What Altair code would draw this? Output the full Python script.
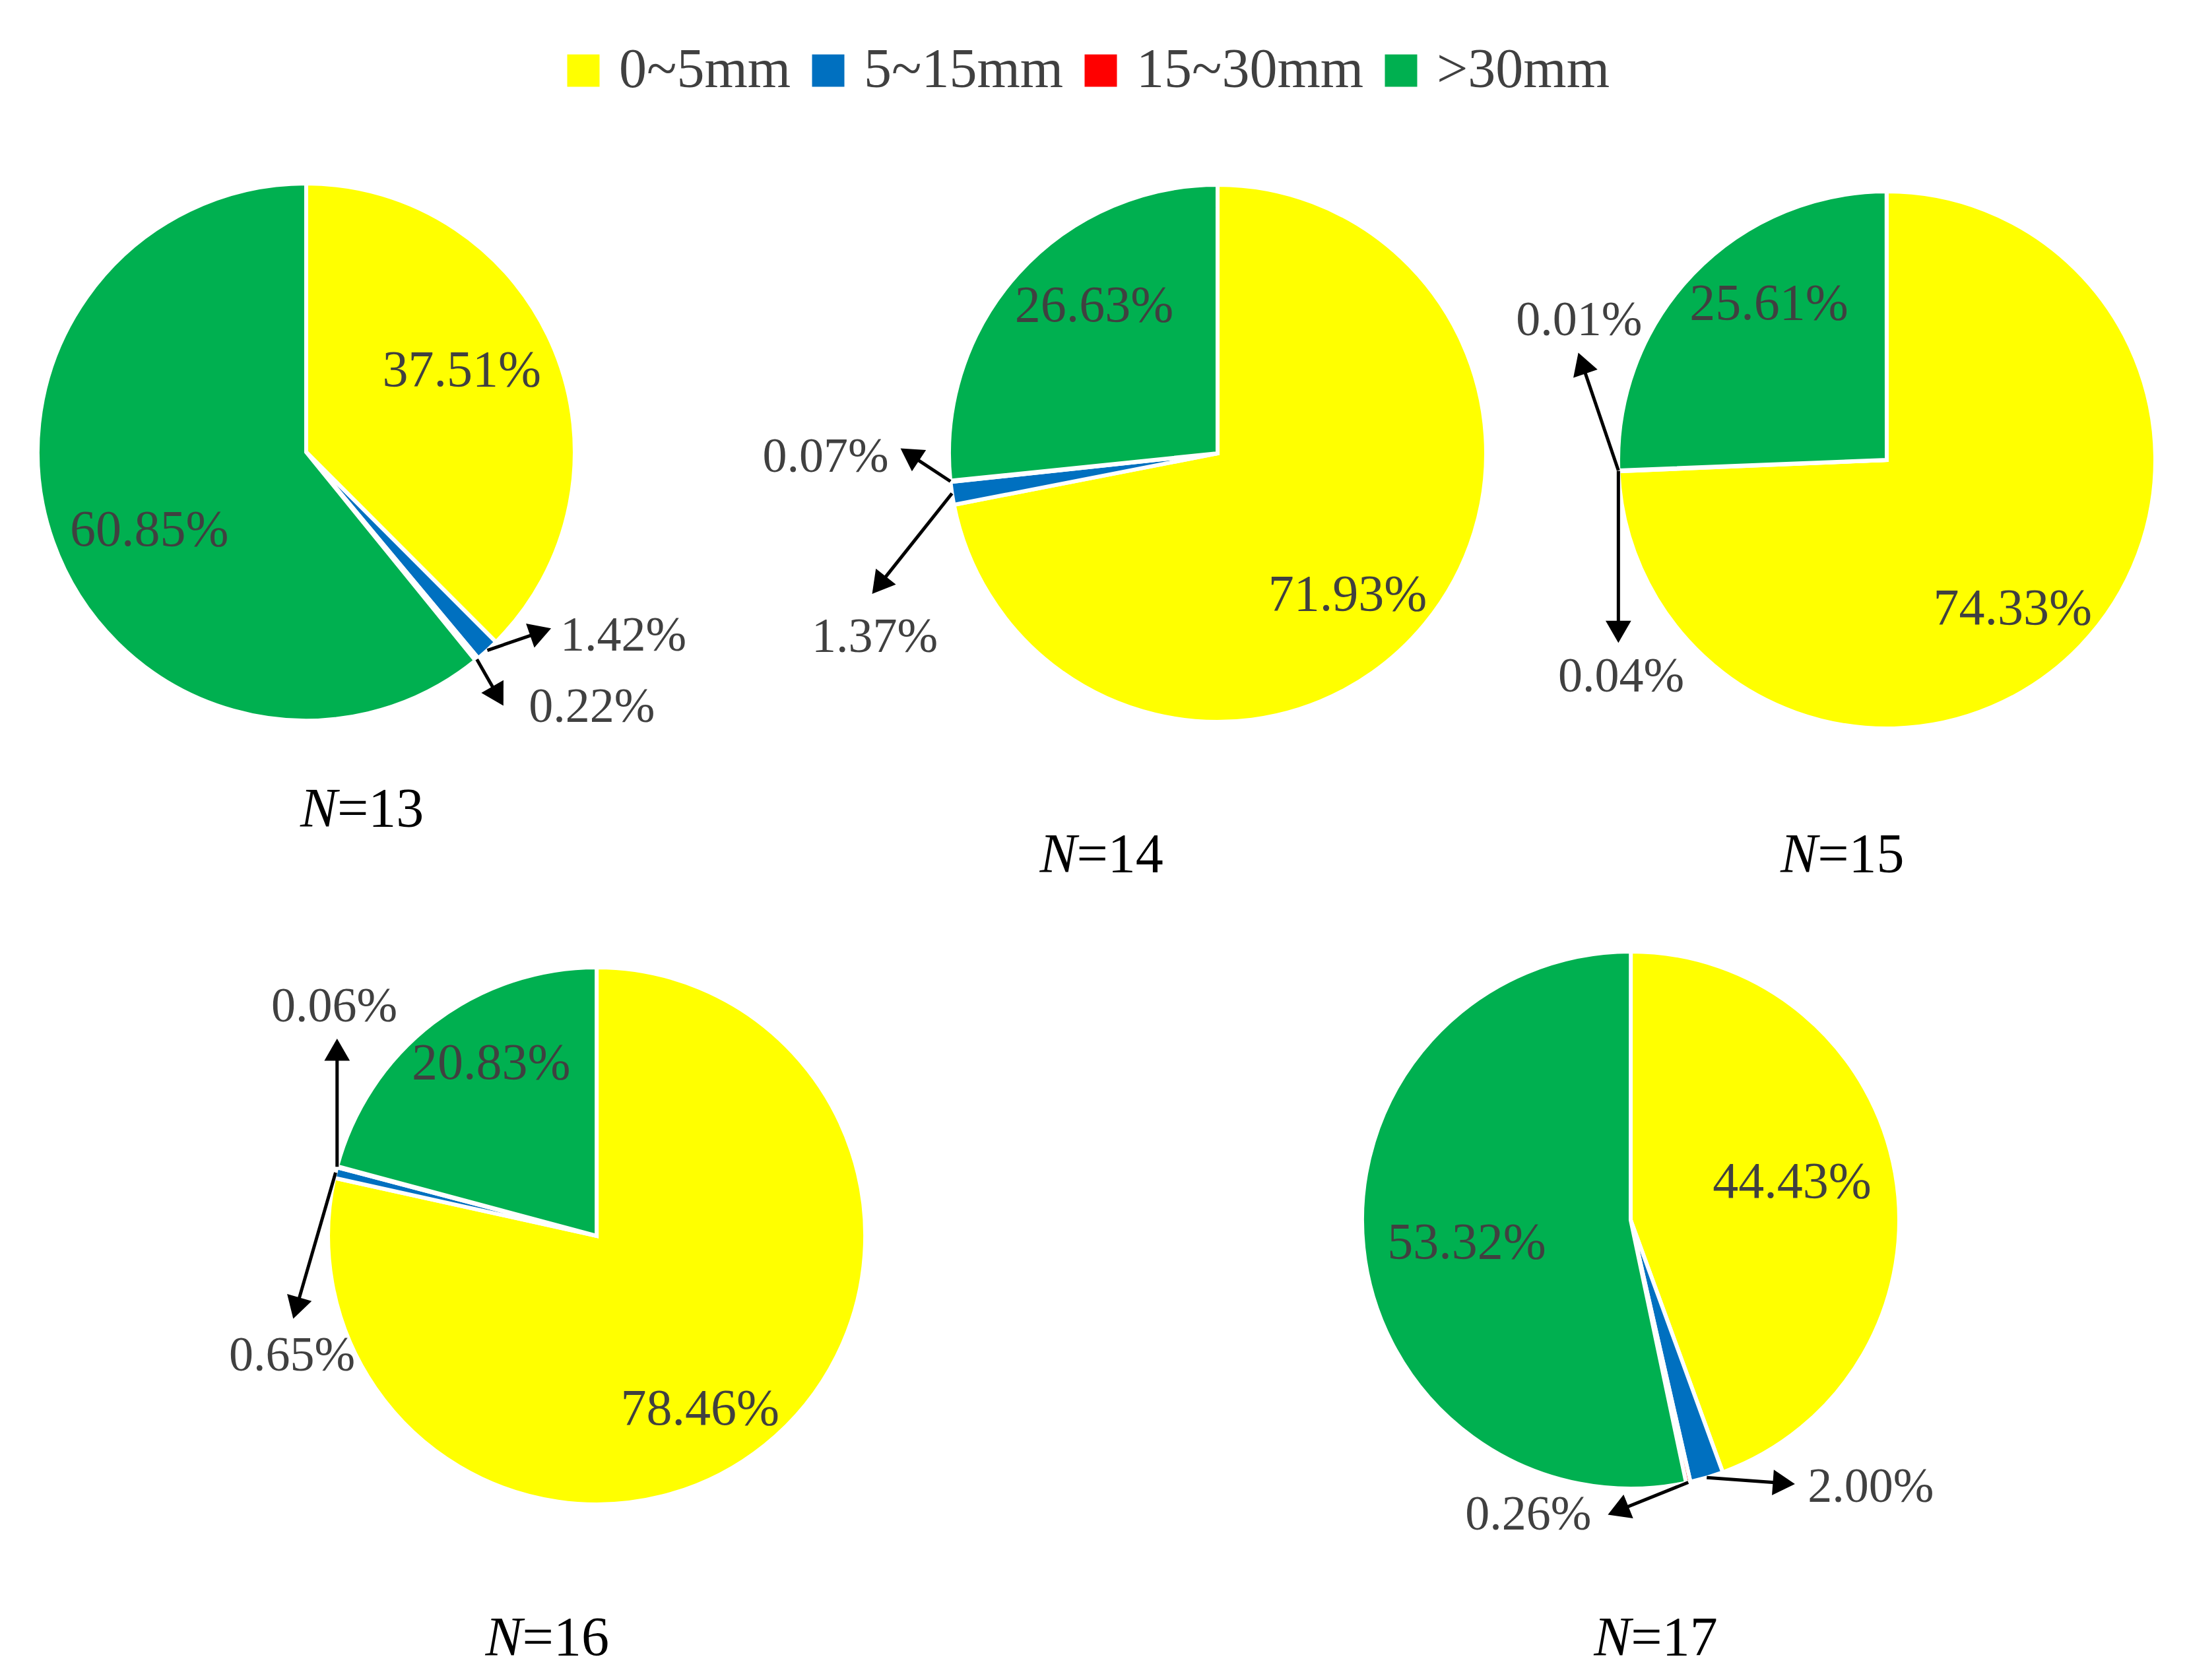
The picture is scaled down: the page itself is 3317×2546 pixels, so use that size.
import math
import altair as alt
import pandas as pd

# ---------------- data ----------------
CATEGORIES = ["0~5mm", "5~15mm", "15~30mm", ">30mm"]
COLORS = ["#FFFF00", "#0070C0", "#FF0000", "#00B050"]
N_VALUES = [13, 14, 15, 16, 17]
SHARE_N13 = [37.51, 1.42, 0.22, 60.85]
SHARE_N14 = [71.93, 1.37, 0.07, 26.63]
SHARE_N15 = [74.33, 0.04, 0.01, 25.61]
SHARE_N16 = [78.46, 0.65, 0.06, 20.83]
SHARE_N17 = [44.43, 2.00, 0.26, 53.32]
SHARES = {13: SHARE_N13, 14: SHARE_N14, 15: SHARE_N15, 16: SHARE_N16, 17: SHARE_N17}

# ---------------- layout (design units = reference at 1560 x 1190) ----------------
W, H = 3300, 2530
SX, SY = 3317 / 1560, 2546 / 1190
S = SX


def px(xd):
    return xd * SX - 8


def py(yd):
    return yd * SY - 8


R_PX = 407
PIE_LAYOUT = {
    13: dict(cx=218.2, cy=320.2, lr=125),
    14: dict(cx=867.7, cy=321.1, lr=137),
    15: dict(cx=1344.6, cy=325.8, lr=139),
    16: dict(cx=425.2, cy=875.4, lr=144),
    17: dict(cx=1162.1, cy=864.2, lr=118),
}
# angular nudge (degrees) of the inside labels of the two big slices, per pie
LABEL_NUDGE = {13: {0: -5, 3: -7}, 14: {0: 8, 3: 8}, 15: {0: 6, 3: 9}, 16: {0: 8, 3: 6}, 17: {0: -3, 3: -2}}
# callouts: slice index -> (arrow end offset, label offset from arrow end, align)
CALLOUTS = {
    13: {1: ((38, -13), (14, 3), "left"), 2: ((15, 26), (22, 8), "left")},
    14: {1: ((-52, 65), (-3, 37), "center"), 2: ((-29, -19), (-15, 2), "right")},
    15: {1: ((0, 114), (2, 32), "center"), 2: ((-26, -76), (-2, -30), "center")},
    16: {1: ((-28, 96), (-3, 34), "center"), 2: ((0, -83), (-2, -30), "center")},
    17: {1: ((55, 4), (17, 3), "left"), 2: ((-50, 20), (-19, 3), "right")},
}
TITLE_POS = {13: (258, 574), 14: (785, 606), 15: (1313, 606), 16: (390, 1161), 17: (1180, 1161)}

FONT = "Liberation Serif"
LABEL_SIZE = 78
CALLOUT_SIZE = 74
TITLE_SIZE = 84
TEXT_COLOR = "#404040"

xscale = alt.Scale(domain=[8 / SX, (8 + W) / SX], nice=False, zero=False)
yscale = alt.Scale(domain=[8 / SY, (8 + H) / SY], nice=False, zero=False, reverse=True)
theta_scale = alt.Scale(domain=[0, 100])
color_scale = alt.Scale(domain=CATEGORIES, range=COLORS)
legend = alt.Legend(
    title=None, orient="none", legendX=834, legendY=57, direction="horizontal", columns=4,
    symbolType="square", symbolSize=2400, symbolStrokeWidth=0, labelFont=FONT,
    labelFontSize=84, labelColor=TEXT_COLOR, columnPadding=14, labelOffset=12, labelLimit=0,
)

layers = []
arrow_rows = []
for n in N_VALUES:
    vals = SHARES[n]
    L = PIE_LAYOUT[n]
    cum = 0.0
    mids = []
    for v in vals:
        mids.append(cum + v / 2)
        cum += v
    df = pd.DataFrame({
        "category": CATEGORIES,
        "share": vals,
        "order": list(range(len(vals))),
        "inside": [f"{v:.2f}%" if v > 5 else "" for v in vals],
        "label_pos": [m + LABEL_NUDGE[n].get(i, 0) / 3.6 for i, m in enumerate(mids)],
    })
    center = dict(x=alt.value(px(L["cx"])), y=alt.value(py(L["cy"])))
    arc = alt.Chart(df).mark_arc(outerRadius=R_PX, stroke="white", strokeWidth=6).encode(
        theta=alt.Theta("share:Q", stack=True, scale=theta_scale),
        order=alt.Order("order:Q"),
        color=alt.Color("category:N", scale=color_scale, legend=legend),
        **center,
    )
    txt = alt.Chart(df).mark_text(radius=L["lr"] * S, font=FONT, fontSize=LABEL_SIZE, color=TEXT_COLOR).encode(
        theta=alt.Theta("label_pos:Q", stack=None, scale=theta_scale),
        text="inside:N",
        **center,
    )
    layers += [arc, txt]

    # callout arrows start on the rim at the slice mid angle
    for i, v in enumerate(vals):
        if i not in CALLOUTS[n]:
            continue
        mid = mids[i] / 100 * 2 * math.pi
        (edx, edy), (ldx, ldy), al = CALLOUTS[n][i]
        sx0 = L["cx"] + R_PX * math.sin(mid) / SX
        sy0 = L["cy"] - R_PX * math.cos(mid) / SY
        ex, ey = sx0 + edx, sy0 + edy
        ang = math.degrees(math.atan2(edx * SX, -edy * SY)) % 360
        arrow_rows.append(dict(x=sx0, y=sy0, x2=ex, y2=ey, angle=ang,
                               lx=ex + ldx, ly=ey + ldy, label=f"{v:.2f}%", align=al))

arrows = pd.DataFrame(arrow_rows)
abase = alt.Chart(arrows)
shaft = abase.mark_rule(color="black", strokeWidth=5).encode(
    x=alt.X("x:Q", scale=xscale, axis=None),
    y=alt.Y("y:Q", scale=yscale, axis=None),
    x2="x2:Q", y2="y2:Q",
)
head = abase.mark_point(shape="triangle-up", filled=True, size=1500, color="black", opacity=1, strokeWidth=0).encode(
    x=alt.X("x2:Q", scale=xscale, axis=None),
    y=alt.Y("y2:Q", scale=yscale, axis=None),
    angle=alt.Angle("angle:Q", scale=None),
)
layers += [shaft, head]
for al in ["left", "center", "right"]:
    layers.append(
        abase.transform_filter(alt.datum.align == al)
        .mark_text(align=al, baseline="middle", font=FONT, fontSize=CALLOUT_SIZE, color=TEXT_COLOR)
        .encode(x=alt.X("lx:Q", scale=xscale, axis=None), y=alt.Y("ly:Q", scale=yscale, axis=None), text="label:N")
    )

# titles "N=xx" with italic N
n_w = 0.667 * TITLE_SIZE / SX
rest_w = 1.564 * TITLE_SIZE / SX
titles = pd.DataFrame({
    "split": [TITLE_POS[n][0] - (n_w + rest_w) / 2 + n_w for n in N_VALUES],
    "ty": [TITLE_POS[n][1] for n in N_VALUES],
    "italic": ["N" for n in N_VALUES],
    "rest": [f"={n}" for n in N_VALUES],
})
tbase = alt.Chart(titles).encode(
    x=alt.X("split:Q", scale=xscale, axis=None), y=alt.Y("ty:Q", scale=yscale, axis=None)
)
layers.append(tbase.mark_text(align="right", baseline="middle", font=FONT, fontStyle="italic",
                              fontSize=TITLE_SIZE, color="black").encode(text="italic:N"))
layers.append(tbase.mark_text(align="left", baseline="middle", font=FONT,
                              fontSize=TITLE_SIZE, color="black").encode(text="rest:N"))

chart = (
    alt.layer(*layers)
    .properties(width=W, height=H, padding=0, autosize=alt.AutoSizeParams(type="none"), background="white")
    .configure_view(stroke=None)
)
chart.save("out.html", embed_options={"renderer": "svg", "actions": False})
